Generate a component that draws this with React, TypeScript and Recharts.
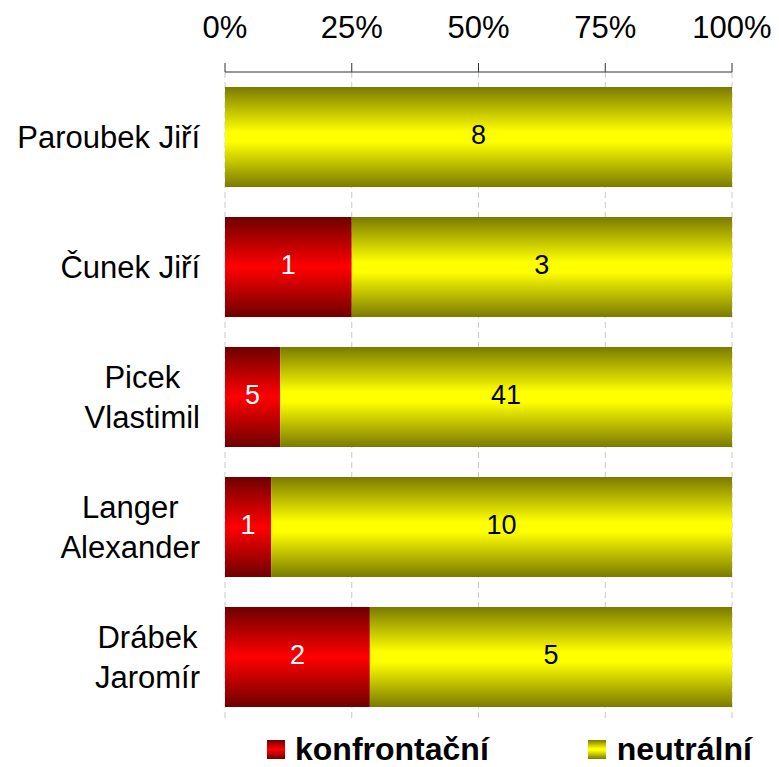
import { BarChart, Bar, XAxis, YAxis, CartesianGrid, LabelList, Legend } from "recharts";

const FONT = '"Liberation Sans", Arial, sans-serif';

const names = ["Paroubek Jiří", "Čunek Jiří", "Picek\nVlastimil", "Langer\nAlexander", "Drábek\nJaromír"];
const konfrontacni = [0, 1, 5, 1, 2];
const neutralni = [8, 3, 41, 10, 5];
const pctTicks = [0, 0.25, 0.5, 0.75, 1];
const rowBounds = [0, 1, 2, 3, 4, 5];

const data = names.map((name, i) => ({
  name,
  konfrontacni: konfrontacni[i],
  neutralni: neutralni[i],
}));

let ctx: CanvasRenderingContext2D | null = null;
const measure = (s: string) => {
  if (!ctx) {
    ctx = document.createElement("canvas").getContext("2d");
    if (ctx) ctx.font = `31px ${FONT}`;
  }
  return ctx ? ctx.measureText(s).width : s.length * 16;
};

// category names, lines centred on each other, block right-aligned to x=200
const NameTick = ({ x, y, payload }: any) => {
  const lines = String(payload.value).split("\n");
  const w = Math.max(...lines.map(measure));
  const cx = x - 25 - w / 2;
  return (
    <g>
      {lines.map((ln, i) => (
        <text
          key={i}
          x={cx}
          y={y + (i - (lines.length - 1) / 2) * 40}
          dy="0.35em"
          textAnchor="middle"
          fontSize={31}
          fontFamily={FONT}
          fill="#000"
        >
          {ln}
        </text>
      ))}
    </g>
  );
};

const hideZero = (v: any) => (v ? v : "");

const LegendBox = () => (
  <div
    style={{
      display: "flex",
      alignItems: "center",
      paddingLeft: 267,
      fontFamily: FONT,
      fontWeight: "bold",
      fontSize: 32,
      lineHeight: "32px",
      color: "#000",
    }}
  >
    <span
      style={{
        width: 18,
        height: 19,
        marginRight: 10,
        background: "linear-gradient(#6e0000, #ff0000 50%, #6e0000)",
      }}
    />
    <span style={{ marginRight: 99 }}>konfrontační</span>
    <span
      style={{
        width: 18,
        height: 19,
        marginRight: 11,
        background: "linear-gradient(#7a7a00, #ffff00 45%, #ffff00 55%, #7a7a00)",
      }}
    />
    <span>neutrální</span>
  </div>
);

export default function App() {
  return (
    <div style={{ position: "absolute", left: 0, top: 0 }}>
      <BarChart
        width={779}
        height={767}
        data={data}
        layout="vertical"
        stackOffset="expand"
        barCategoryGap={15}
        margin={{ top: 0, right: 47, bottom: 45, left: 0 }}
      >
        <defs>
          <linearGradient id="gRed" x1="0" y1="0" x2="0" y2="1">
            <stop offset="0" stopColor="#6e0000" />
            <stop offset="0.5" stopColor="#ff0000" />
            <stop offset="1" stopColor="#6e0000" />
          </linearGradient>
          <linearGradient id="gYellow" x1="0" y1="0" x2="0" y2="1">
            <stop offset="0" stopColor="#7a7a00" />
            <stop offset="0.45" stopColor="#ffff00" />
            <stop offset="0.55" stopColor="#ffff00" />
            <stop offset="1" stopColor="#7a7a00" />
          </linearGradient>
        </defs>
        <CartesianGrid horizontal={false} stroke="#c8c8c8" strokeDasharray="6 4" />
        <XAxis
          type="number"
          orientation="top"
          domain={[0, 1]}
          ticks={pctTicks}
          tickFormatter={(v: number) => `${Math.round(v * 100)}%`}
          height={72}
          tickSize={9}
          tickMargin={25}
          stroke="#333"
          tick={{ fontSize: 31, fill: "#000", fontFamily: FONT }}
        />
        <YAxis
          yAxisId="rows"
          type="number"
          domain={[0, 5]}
          ticks={rowBounds}
          tick={false}
          tickSize={9}
          width={0}
          stroke="#333"
        />
        <YAxis
          type="category"
          dataKey="name"
          width={225}
          axisLine={false}
          tickLine={false}
          tickSize={0}
          tickMargin={0}
          tick={<NameTick />}
        />
        <Legend
          verticalAlign="middle"
          align="center"
          wrapperStyle={{ top: 733, left: 0, width: 779 }}
          content={<LegendBox />}
        />
        <Bar dataKey="konfrontacni" stackId="a" fill="url(#gRed)" isAnimationActive={false}>
          <LabelList
            dataKey="konfrontacni"
            position="center"
            formatter={hideZero}
            fill="#fff"
            fontSize={27}
            fontFamily={FONT}
            dy={-3}
          />
        </Bar>
        <Bar dataKey="neutralni" stackId="a" fill="url(#gYellow)" isAnimationActive={false}>
          <LabelList
            dataKey="neutralni"
            position="center"
            formatter={hideZero}
            fill="#000"
            fontSize={27}
            fontFamily={FONT}
            dy={-3}
          />
        </Bar>
      </BarChart>
    </div>
  );
}
